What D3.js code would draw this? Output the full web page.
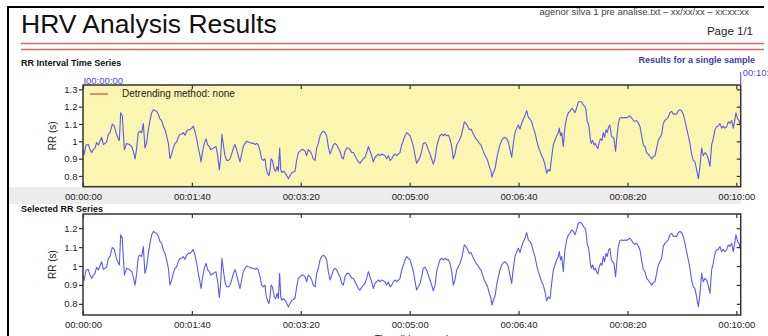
<!DOCTYPE html>
<head>
    <meta charset="utf-8">
    <title>HRV Analysis Results</title>
    <script src="https://d3js.org/d3.v7.min.js"></script>
    <style>
        body { margin: 0; background: #fff; }
        svg { display: block; font-family: "Liberation Sans", Arial, Helvetica, sans-serif; }
        .tick text { fill: #222; font-size: 9.5px; }
        .tick line { stroke: #333; }
    </style>
</head>

<body>
    <svg width="768" height="336"></svg>

    <script>
        // RR interval samples (seconds, RR in s)
        var times = [0, 0.9, 2.8, 4.9, 6.4, 8.0, 9.5, 11.0, 12.5, 14.1, 15.6, 17.1, 18.7, 20.2, 21.7, 23.3, 24.8, 26.9, 28.8, 30.3,
            31.8, 33.4, 34.6, 36.1, 37.0, 38.0, 40.1, 42.5, 44.7, 46.2, 47.8, 49.3, 50.8, 52.3, 53.9, 55.4, 56.9, 58.5, 60.0, 61.5,
            63.1, 64.6, 66.1, 67.6, 69.2, 70.7, 72.2, 73.8, 75.3, 76.8, 78.4, 79.9, 81.4, 82.9, 84.5, 86.0, 87.5, 89.1, 90.6, 92.1,
            93.7, 95.2, 96.7, 98.3, 99.8, 101.3, 102.8, 104.4, 105.9, 107.4, 108.4, 109.9, 111.4, 113.0, 114.5, 116.0, 117.5, 119.1, 120.6, 122.1,
            123.7, 125.2, 126.4, 127.6, 128.9, 130.4, 131.9, 133.5, 135.0, 136.5, 138.1, 139.6, 141.1, 142.6, 144.2, 145.7, 147.2, 148.8, 150.3, 151.8,
            153.4, 154.9, 156.5, 158.0, 159.5, 161.0, 162.6, 164.1, 165.6, 167.2, 168.1, 169.3, 170.8, 171.8, 172.7, 173.9, 174.8, 175.7, 177.0, 178.2,
            179.4, 180.6, 181.6, 182.5, 184.0, 185.5, 187.1, 188.6, 190.1, 191.7, 193.2, 194.7, 196.2, 197.8, 199.3, 200.8, 202.4, 203.9, 205.4, 206.9,
            208.5, 210.0, 211.5, 213.1, 214.6, 216.1, 217.7, 219.2, 220.7, 222.3, 223.8, 225.3, 226.9, 228.4, 229.9, 231.4, 233.0, 234.5, 236.0, 237.6,
            239.1, 240.6, 242.2, 243.7, 245.2, 246.8, 248.3, 249.8, 251.3, 252.9, 254.4, 255.9, 257.5, 259.0, 260.5, 262.1, 263.6, 265.1, 266.6, 268.2,
            269.7, 271.2, 272.8, 274.3, 275.8, 277.4, 278.9, 280.4, 282.0, 283.5, 285.0, 286.5, 288.1, 289.6, 291.1, 292.7, 294.2, 295.7, 297.3, 298.8,
            300.3, 301.8, 303.4, 304.9, 306.4, 308.0, 309.5, 311.0, 312.5, 314.1, 315.6, 317.1, 318.7, 320.2, 321.7, 323.3, 324.8, 326.3, 327.8, 329.4,
            330.9, 332.4, 334.0, 335.5, 337.0, 338.6, 340.1, 341.6, 343.2, 344.7, 346.2, 347.7, 349.3, 350.2, 351.7, 353.3, 354.8, 356.3, 357.8, 359.4,
            360.9, 362.4, 364.0, 365.5, 367.0, 368.6, 370.1, 371.6, 373.1, 374.7, 375.6, 376.8, 378.4, 379.9, 381.4, 382.9, 384.5, 386.0, 387.5, 389.1,
            390.6, 392.1, 393.7, 395.2, 396.7, 398.3, 399.8, 401.3, 402.8, 404.4, 405.9, 407.4, 409.0, 410.5, 412.0, 413.6, 415.1, 416.6, 418.1, 419.7,
            421.2, 422.7, 424.3, 425.8, 427.3, 428.9, 430.4, 431.9, 433.4, 435.0, 436.5, 437.4, 438.6, 439.6, 441.1, 442.6, 444.2, 445.7, 447.2, 448.8,
            450.3, 451.8, 453.3, 454.9, 456.4, 457.9, 459.5, 461.0, 461.9, 463.1, 464.0, 465.0, 465.9, 466.8, 468.0, 469.3, 470.5, 471.7, 472.9, 474.1,
            475.4, 476.6, 477.8, 479.0, 480.3, 481.5, 482.7, 483.9, 485.2, 486.4, 487.6, 489.1, 490.4, 491.6, 493.1, 494.7, 496.2, 497.7, 499.2, 500.8,
            502.3, 503.8, 505.4, 506.9, 508.4, 510.0, 511.5, 513.0, 514.6, 516.1, 517.6, 519.1, 520.7, 522.2, 523.7, 525.3, 526.8, 528.3, 529.9, 531.4,
            532.9, 534.4, 536.0, 537.5, 539.0, 540.6, 542.1, 543.6, 545.2, 546.7, 548.2, 549.7, 551.3, 552.8, 554.3, 555.9, 557.4, 558.9, 560.5, 562.0,
            563.5, 565.1, 566.6, 568.1, 569.6, 571.2, 572.7, 574.2, 575.8, 577.3, 578.8, 580.4, 581.9, 583.4, 584.9, 586.5, 588.0, 589.5, 591.1, 592.6,
            594.1, 595.7, 597.2, 598.7, 599.6, 601.2, 602.4, 603.6];

        var rr = [0.950, 0.922, 0.979, 0.982, 0.952, 0.935, 0.952, 0.961, 0.993, 0.979, 1.000, 1.023, 0.982, 0.988, 0.996, 1.041, 1.050, 1.099, 1.088, 1.050,
            1.023, 1.005, 1.165, 1.147, 1.050, 0.952, 0.988, 0.982, 0.970, 0.943, 0.899, 0.961, 1.050, 1.058, 1.050, 1.103, 0.961, 0.996, 1.067, 1.120,
            1.165, 1.182, 1.177, 1.173, 1.156, 1.129, 1.120, 1.085, 1.067, 1.032, 0.988, 0.899, 0.926, 0.961, 0.988, 0.996, 1.023, 1.041, 1.041, 1.050,
            1.035, 1.058, 1.067, 1.067, 1.076, 1.088, 1.058, 1.014, 0.961, 0.917, 0.881, 0.943, 0.988, 1.014, 0.979, 0.970, 0.952, 0.958, 0.965, 0.970,
            0.917, 0.834, 0.908, 1.041, 0.979, 0.917, 0.890, 0.890, 0.899, 0.926, 0.961, 0.982, 0.952, 0.917, 0.881, 0.926, 0.970, 0.988, 1.000, 0.996,
            0.993, 0.988, 0.988, 0.982, 0.988, 0.979, 0.943, 0.899, 0.890, 0.899, 0.846, 0.819, 0.802, 0.837, 0.899, 0.890, 0.864, 0.837, 0.828, 0.855,
            0.828, 0.961, 0.837, 0.819, 0.828, 0.819, 0.802, 0.784, 0.802, 0.819, 0.823, 0.828, 0.890, 0.935, 0.943, 0.952, 0.952, 0.943, 0.917, 0.952,
            0.943, 0.926, 0.899, 0.890, 0.961, 0.988, 1.032, 1.050, 1.058, 1.050, 1.032, 0.970, 0.926, 0.952, 0.979, 0.988, 0.979, 0.961, 0.943, 0.908,
            0.899, 0.943, 0.961, 0.961, 0.952, 0.935, 0.935, 0.917, 0.899, 0.881, 0.873, 0.887, 0.899, 0.908, 0.935, 0.970, 0.943, 0.917, 0.881, 0.908,
            0.917, 0.926, 0.917, 0.926, 0.922, 0.917, 0.899, 0.917, 0.890, 0.899, 0.917, 0.926, 0.917, 0.926, 0.935, 0.979, 1.005, 1.032, 1.050, 1.041,
            1.032, 1.005, 0.970, 0.920, 0.873, 0.890, 0.908, 0.943, 0.988, 0.993, 0.979, 0.952, 0.926, 0.899, 0.869, 0.899, 0.970, 1.005, 1.032, 1.041,
            1.032, 1.041, 1.032, 1.035, 1.014, 0.970, 0.899, 0.926, 0.979, 0.996, 1.014, 1.041, 1.085, 1.112, 1.103, 1.085, 1.067, 1.071, 1.050, 1.032,
            1.014, 1.005, 0.988, 0.979, 0.952, 0.926, 0.908, 0.890, 0.855, 0.828, 0.793, 0.819, 0.841, 0.899, 0.943, 0.979, 1.005, 1.018, 1.023, 1.014,
            0.996, 0.952, 0.908, 0.988, 1.050, 1.076, 1.094, 1.071, 1.103, 1.129, 1.147, 1.177, 1.138, 1.129, 1.112, 1.076, 1.050, 1.005, 0.970, 0.943,
            0.917, 0.899, 0.864, 0.816, 0.837, 0.828, 0.908, 0.979, 1.005, 1.032, 1.050, 1.076, 1.032, 1.050, 0.970, 1.085, 1.138, 1.165, 1.173, 1.191,
            1.182, 1.165, 1.191, 1.227, 1.230, 1.227, 1.209, 1.200, 1.182, 1.112, 1.103, 1.067, 1.014, 0.988, 1.005, 0.979, 0.988, 0.970, 0.958, 0.996,
            1.014, 1.005, 1.050, 1.023, 1.067, 1.050, 1.085, 1.094, 1.032, 1.023, 1.014, 0.943, 1.032, 1.103, 1.135, 1.138, 1.135, 1.138, 1.135, 1.142,
            1.147, 1.135, 1.120, 1.115, 1.120, 1.106, 1.085, 1.032, 0.979, 0.970, 0.935, 0.926, 0.912, 0.899, 0.912, 0.917, 0.961, 1.005, 1.023, 1.041,
            1.103, 1.120, 1.129, 1.138, 1.165, 1.173, 1.156, 1.159, 1.156, 1.177, 1.182, 1.177, 1.156, 1.120, 1.076, 1.032, 0.988, 0.926, 0.890, 0.881,
            0.837, 0.784, 0.855, 0.961, 0.917, 0.935, 0.926, 0.899, 0.855, 0.979, 1.014, 1.067, 1.085, 1.088, 1.103, 1.076, 1.088, 1.076, 1.085, 1.112,
            1.103, 1.120, 1.076, 1.129, 1.165, 1.129, 1.120, 1.094];

        var xTicks = [0, 100, 200, 300, 400, 500, 600];
        var yTicksTop = [0.8, 0.9, 1, 1.1, 1.2, 1.3];
        var yTicksBottom = [0.8, 0.9, 1, 1.1, 1.2];

        var data = times.map(function (t, i) { return { t: t, v: rr[i] }; });

        var svg = d3.select("svg");

        function hms(s) {
            var h = Math.floor(s / 3600), m = Math.floor(s % 3600 / 60), sec = Math.round(s % 60);
            return d3.format("02d")(h) + ":" + d3.format("02d")(m) + ":" + d3.format("02d")(sec);
        }

        // page frame and header
        svg.append("line").attr("x1", 7).attr("x2", 764).attr("y1", 7).attr("y2", 7)
            .attr("stroke", "#000").attr("stroke-width", 2);
        svg.append("line").attr("x1", 8).attr("x2", 8).attr("y1", 6).attr("y2", 336)
            .attr("stroke", "#000").attr("stroke-width", 2);

        svg.append("text").attr("x", 21).attr("y", 33)
            .style("font-size", "26.5px").attr("fill", "#111")
            .text("HRV Analysis Results");
        svg.append("text").attr("x", 749).attr("y", 15).attr("text-anchor", "end")
            .style("font-size", "9.5px").attr("fill", "#444")
            .text("agenor silva 1 pre analise.txt \u2013 xx/xx/xx \u2013 xx:xx:xx");
        svg.append("text").attr("x", 753).attr("y", 35).attr("text-anchor", "end")
            .style("font-size", "11.5px").attr("fill", "#222")
            .text("Page 1/1");

        [43.5, 49.5].forEach(function (y) {
            svg.append("line").attr("x1", 21).attr("x2", 764).attr("y1", y).attr("y2", y)
                .attr("stroke", "#e06464").attr("stroke-width", 1.6);
        });

        svg.append("text").attr("x", 21).attr("y", 66)
            .style("font-size", "9px").style("font-weight", "bold").attr("fill", "#111")
            .text("RR Interval Time Series");
        svg.append("text").attr("x", 755).attr("y", 63).attr("text-anchor", "end")
            .style("font-size", "9px").style("font-weight", "bold").attr("fill", "#3b3bb0")
            .text("Results for a single sample");

        // gray strip under the top chart
        svg.append("rect").attr("x", 9).attr("y", 187).attr("width", 732).attr("height", 17)
            .attr("fill", "#ededed");

        svg.append("text").attr("x", 21).attr("y", 212)
            .style("font-size", "9px").style("font-weight", "bold").attr("fill", "#111")
            .text("Selected RR Series");

        function panel(cfg) {
            var x = d3.scaleLinear().domain([0, 604]).range([cfg.left, cfg.right]);
            var y = d3.scaleLinear().domain(cfg.yDomain).range([cfg.bottom, cfg.top]);
            var g = svg.append("g");

            g.append("rect")
                .attr("x", cfg.left).attr("y", cfg.top)
                .attr("width", cfg.right - cfg.left).attr("height", cfg.bottom - cfg.top)
                .attr("fill", cfg.fill);

            var line = d3.line()
                .x(function (d) { return x(d.t); })
                .y(function (d) { return y(d.v); });

            g.append("path")
                .datum(data)
                .attr("fill", "none")
                .attr("stroke", "#5a5af0")
                .attr("stroke-width", 1.1)
                .attr("stroke-linejoin", "round")
                .attr("d", line);

            // axes
            g.append("g").attr("transform", "translate(" + cfg.left + ",0)")
                .call(d3.axisLeft(y).tickValues(cfg.yTicks).tickSize(4).tickPadding(1.5)
                    .tickFormat(d3.format("~g")));
            g.append("g").attr("transform", "translate(" + cfg.right + ",0)")
                .call(d3.axisRight(y).tickValues(cfg.yTicks).tickSize(-4).tickFormat(""));
            g.append("g").attr("transform", "translate(0," + cfg.top + ")")
                .call(d3.axisTop(x).tickValues(xTicks).tickSize(-4).tickFormat(""));
            g.append("g").attr("transform", "translate(0," + cfg.bottom + ")")
                .call(d3.axisBottom(x).tickValues(xTicks).tickSize(-4).tickPadding(6.5).tickFormat(hms));
            g.selectAll(".domain").remove();
            g.selectAll(".tick line").attr("stroke-width", 1.2);

            g.append("rect")
                .attr("x", cfg.left).attr("y", cfg.top)
                .attr("width", cfg.right - cfg.left).attr("height", cfg.bottom - cfg.top)
                .attr("fill", "none").attr("stroke", "#333").attr("stroke-width", 1.5);

            g.append("text")
                .attr("transform", "translate(56," + ((cfg.top + cfg.bottom) / 2) + ") rotate(-90)")
                .attr("text-anchor", "middle")
                .style("font-size", "10px").attr("fill", "#222")
                .text("RR (s)");
            return { x: x, y: y, g: g };
        }

        var topPanel = panel({ left: 83, right: 740.7, top: 85, bottom: 186.7, yDomain: [0.738, 1.325], yTicks: yTicksTop, fill: "#faf5b1" });
        var bottomPanel = panel({ left: 83, right: 740.7, top: 214, bottom: 315, yDomain: [0.741, 1.275], yTicks: yTicksBottom, fill: "#fff" });

        // legend in top chart
        topPanel.g.append("line").attr("x1", 90).attr("x2", 108).attr("y1", 94).attr("y2", 94)
            .attr("stroke", "#e8503a").attr("stroke-width", 1.3);
        topPanel.g.append("text").attr("x", 122).attr("y", 97)
            .style("font-size", "10px").attr("fill", "#222")
            .text("Detrending method: none");

        // selection markers
        var selStart = 0, selEnd = 604;
        svg.append("line").attr("x1", topPanel.x(selStart) + 2).attr("x2", topPanel.x(selStart) + 2)
            .attr("y1", 78).attr("y2", 85).attr("stroke", "#4a4ae0");
        svg.append("text").attr("x", topPanel.x(selStart) + 3).attr("y", 84)
            .style("font-size", "9.5px").attr("fill", "#4a4ae0").text(hms(selStart));
        svg.append("line").attr("x1", topPanel.x(selEnd)).attr("x2", topPanel.x(selEnd))
            .attr("y1", 72).attr("y2", 85).attr("stroke", "#4a4ae0");
        svg.append("text").attr("x", topPanel.x(selEnd) + 2).attr("y", 76)
            .style("font-size", "9.5px").attr("fill", "#4a4ae0").text(hms(600));

        svg.append("text").attr("x", 412).attr("y", 343).attr("text-anchor", "middle")
            .style("font-size", "10px").attr("fill", "#222")
            .text("Time (hh:mm:ss)");
    </script>
</body>
